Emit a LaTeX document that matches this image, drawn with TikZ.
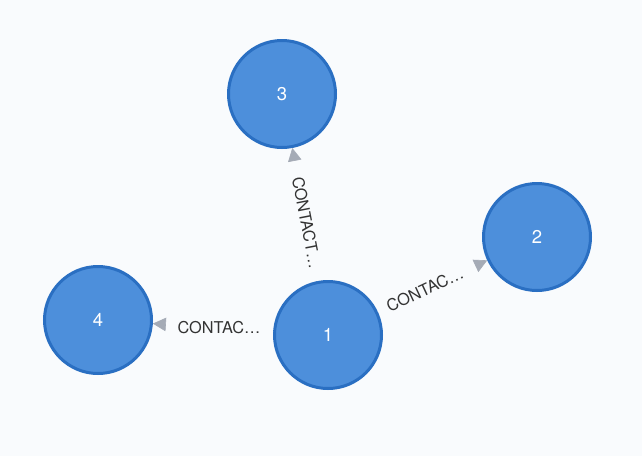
\documentclass[tikz,border=0pt]{standalone}
\usepackage{fontspec}
\setmainfont{TeX Gyre Heros}
\usetikzlibrary{arrows.meta}
\definecolor{bgcol}{HTML}{F9FBFD}
\definecolor{nodefill}{HTML}{4D8FDB}
\definecolor{nodeline}{HTML}{2A6FC2}
\definecolor{relcol}{HTML}{A5ABB6}
\definecolor{txtcol}{HTML}{333333}
\begin{document}
\begin{tikzpicture}[x=1pt,y=-1pt,
  vertex/.style={circle,draw=nodeline,fill=nodefill,line width=3pt,minimum size=107pt,inner sep=0pt,text=white,font=\fontsize{18.5}{19}\selectfont},
  rel/.style={draw=bgcol,line width=0.6pt,-{Triangle[length=13pt,width=13.5pt,color=relcol]}},
  rellabel/.style={text=txtcol,inner sep=1pt,font=\fontsize{16.3}{17}\selectfont}]
\fill[bgcol] (0,0) rectangle (642,456);
\node[vertex] (n1) at (328,335) {1}; \node[vertex] (n2) at (537,237) {2};
\node[vertex] (n3) at (282,94) {3}; \node[vertex] (n4) at (98,320) {4};
% relationships, captions cut short
\draw[rel] (n1) -- node[rellabel,pos=0.43,sloped] {CONTAC\ldots} (n2);
\draw[rel] (n1) -- node[rellabel,pos=0.44,rotate=-79] {CONTACT\ldots} (n3);
\draw[rel] (n1) -- node[rellabel,pos=0.45] {CONTAC\ldots} (n4);
\end{tikzpicture}
\end{document}
